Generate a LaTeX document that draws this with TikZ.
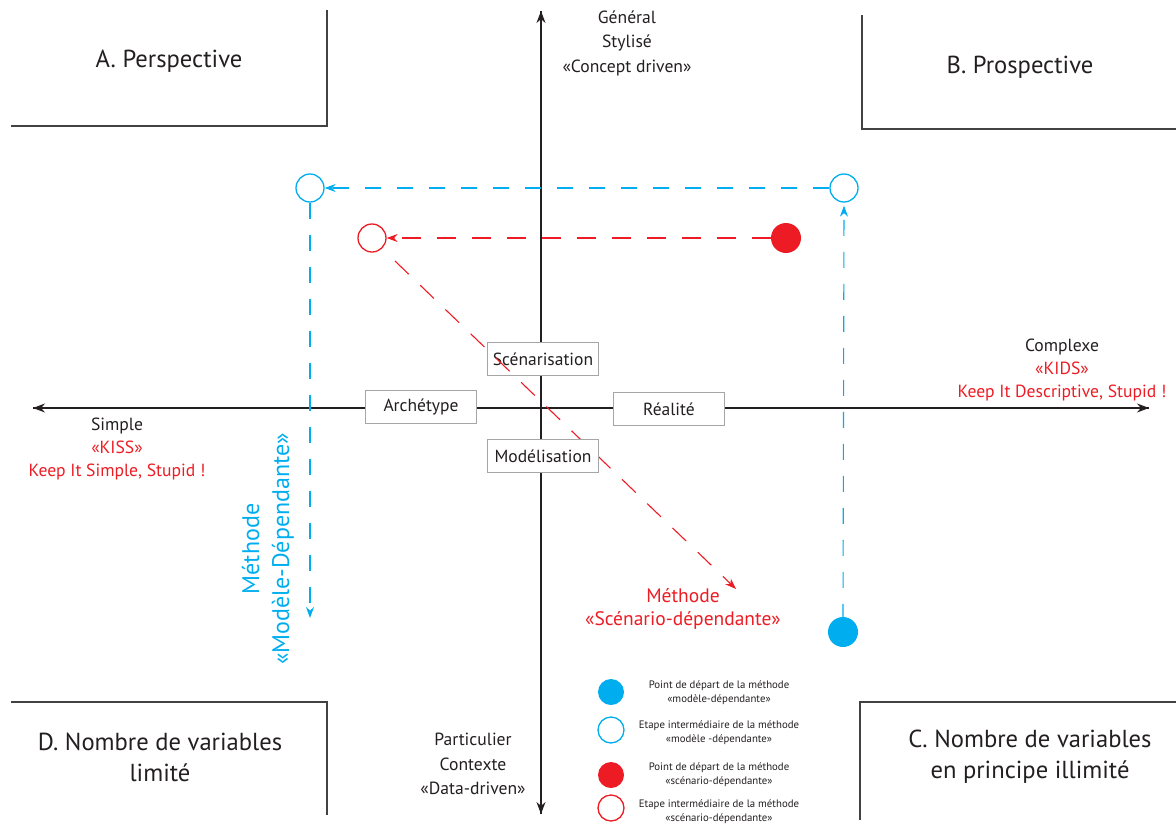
\documentclass[tikz,border=0pt]{standalone}
\usepackage{fontspec}
\setmainfont{PT Sans}
\usetikzlibrary{arrows.meta}
\definecolor{cblue}{HTML}{00AEEF}
\definecolor{cred}{HTML}{ED1C24}
\definecolor{cdark}{HTML}{231F20}
\tikzset{
  axis/.style={draw=cdark, line width=1.1pt, -{Stealth[length=12pt,width=9pt]}},
  corner/.style={draw=cdark!85, line width=1.1pt},
  quad/.style={font=\fontsize{24.6}{31}\selectfont, text=cdark, align=center},
  axlab/.style={font=\fontsize{17.6}{24.5}\selectfont, text=cdark, align=center},
  redlab/.style={font=\fontsize{19.5}{23}\selectfont, text=cred, align=center},
  catbox/.style={draw=gray!70, line width=0.9pt, fill=white, minimum width=111pt, minimum height=33pt, inner sep=0pt, font=\fontsize{17.5}{19}\selectfont, text=cdark},
  bopen/.style={circle, draw=cblue, line width=1.3pt, fill=white, minimum size=28pt, inner sep=0pt},
  bfull/.style={circle, fill=cblue, minimum size=30pt, inner sep=0pt},
  ropen/.style={circle, draw=cred, line width=1.3pt, fill=white, minimum size=28pt, inner sep=0pt},
  rfull/.style={circle, fill=cred, minimum size=30pt, inner sep=0pt},
  bdash/.style={draw=cblue, line width=1.1pt, dash pattern=on 16pt off 16pt, -{Stealth[length=11pt,width=8pt]}},
  rdash/.style={draw=cred, line width=1.1pt, dash pattern=on 19pt off 16pt, -{Stealth[length=11pt,width=8pt]}},
  leg/.style={font=\fontsize{10.8}{14}\selectfont, text=cdark, align=center},
}
\begin{document}
\begin{tikzpicture}[x=1pt,y=-1pt]
\useasboundingbox (0,0) rectangle (1176,825);
% axes
\coordinate (top) at (541,11);
\coordinate (bot) at (541,814);
\coordinate (left) at (33,408);
\coordinate (right) at (1149,408);
\draw[axis] (bot) -- (top);
\draw[axis] (top) -- (bot);
\draw[axis] (right) -- (left);
\draw[axis] (left) -- (right);
% corner lines
\draw[corner] (11,126) -- (327,126) -- (327,10);
\draw[corner] (1176,129) -- (862,129) -- (862,15);
\draw[corner] (11,702) -- (327,702) -- (327,815);
\draw[corner] (1176,702) -- (860,702) -- (860,820);
% quadrant titles
\node[quad] (qa) at (169,61) {A. Perspective};
\node[quad] (qb) at (1020,67) {B. Prospective};
\node[quad] (qd) at (160,757) {D. Nombre de variables\\limité};
\node[quad] (qc) at (1030,757) {C. Nombre de variables\\en principe illimité};
% axis labels
\node[axlab] (gen) at (627,43) {Général\\Stylisé\\«Concept driven»};
\node[axlab] (part) at (473,764) {Particulier\\Contexte\\«Data-driven»};
\node[axlab, anchor=north] (simple) at (117,414) {Simple\\[-1.5pt]\textcolor{cred}{«KISS»}\\[-1.5pt]\textcolor{cred}{Keep It Simple, Stupid !}};
\node[axlab, anchor=north] (complexe) at (1062,335) {Complexe\\[-1.5pt]\textcolor{cred}{«KIDS»}\\[-1.5pt]\textcolor{cred}{Keep It Descriptive, Stupid !}};
% boxes
\node[catbox] (scen) at (543,359) {Scénarisation};
\node[catbox] (arch) at (421,407) {Archétype};
\node[catbox] (real) at (669,409) {Réalité};
% method circles and arrows
\node[bopen] (b1) at (310,188) {};
\node[bopen] (b2) at (844,188) {};
\node[ropen] (r1) at (372,238) {};
\node[rfull] (r0) at (786,238) {};
\node[bfull] (b0) at (843,632) {};
\coordinate (bend) at (310,618);
\coordinate (rstart) at (395,261);
\coordinate (rend) at (736,589);
\draw[bdash] (b2.west) -- (b1.east);
\draw[bdash] ([yshift=-3pt]b0.north) -- ([yshift=-3pt]b2.south);
\draw[bdash] (b1.south) -- (bend);
\draw[rdash] (r0.west) -- (r1.east);
\draw[rdash] (rstart) -- (rend);
\node[catbox] (mod) at (543,456) {Modélisation};
% method labels
\node[font=\fontsize{24}{30}\selectfont, text=cblue, align=center, rotate=90] (mmod) at (268,549) {Méthode\\«Modèle-Dépendante»};
\node[redlab] (mscen) at (683,609) {Méthode\\«Scénario-dépendante»};
% legend
\node[bfull, minimum size=26pt] (l1) at (611,692) {};
\node[bopen, minimum size=26pt] (l2) at (611,730) {};
\node[rfull, minimum size=26pt] (l3) at (611,775) {};
\node[ropen, minimum size=26pt] (l4) at (611,808) {};
\node[leg] (t1) at (719,693) {Point de départ de la méthode\\«modèle-dépendante»};
\node[leg] (t2) at (719,732.5) {Etape intermédiaire de la méthode\\«modèle -dépendante»};
\node[leg] (t3) at (719,775) {Point de départ de la méthode\\«scénario-dépendante»};
\node[leg] (t4) at (719,812) {Etape intermédiaire de la méthode\\«scénario-dépendante»};
\end{tikzpicture}
\end{document}
